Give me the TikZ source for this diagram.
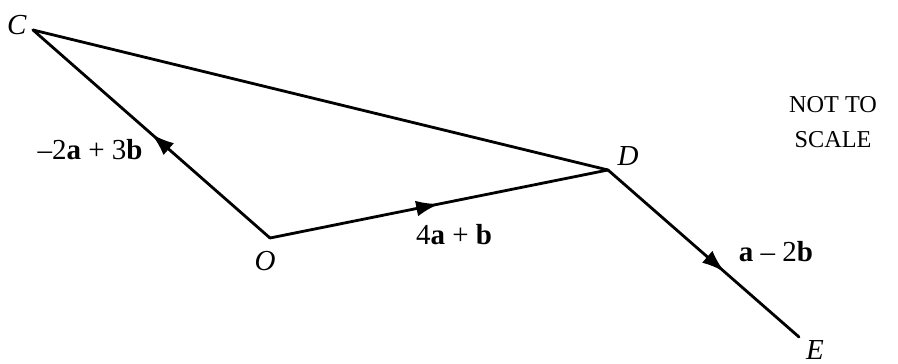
\documentclass[tikz,border=0pt]{standalone}
\usepackage{fontspec}
\setmainfont{Liberation Serif}
\usetikzlibrary{arrows.meta,decorations.markings}

\begin{document}
\begin{tikzpicture}[x=0.02cm,y=-0.02cm,font=\fontsize{16.5}{19}\selectfont,
  vec/.style={line width=1.6pt,line cap=round,line join=round},
  midarr/.style={postaction={decorate,decoration={markings,
    mark=at position #1 with {\arrow{Latex[length=13pt,width=9pt]}}}}}]
  \useasboundingbox (0,0) rectangle (898,364);
  % punkty
  \coordinate (O) at (270,238); \coordinate (C) at (33,30);
  \coordinate (D) at (608,170); \coordinate (E) at (799,337);
  % wektory
  \draw[vec,midarr=0.5] (O) -- (C);
  \draw[vec,midarr=0.5] (O) -- (D);
  \draw[vec,midarr=0.61] (D) -- (E);
  \draw[vec] (C) -- (D);
  % etykiety punktow
  \node (lC) at (17,25) {\textit{C}};
  \node (lO) at (265,261) {\textit{O}};
  \node (lD) at (628,156) {\textit{D}};
  \node (lE) at (815,350) {\textit{E}};
  % etykiety wektorow
  \node (lOC) at (90,150) {–2\textbf{a} + 3\textbf{b}};
  \node (lOD) at (454,235) {4\textbf{a} + \textbf{b}};
  \node (lDE) at (776,252) {\textbf{a} – 2\textbf{b}};
  \node[align=center,font=\fontsize{13.8}{20}\selectfont] (nts) at (833,122) {NOT TO\\SCALE};
\end{tikzpicture}
\end{document}
